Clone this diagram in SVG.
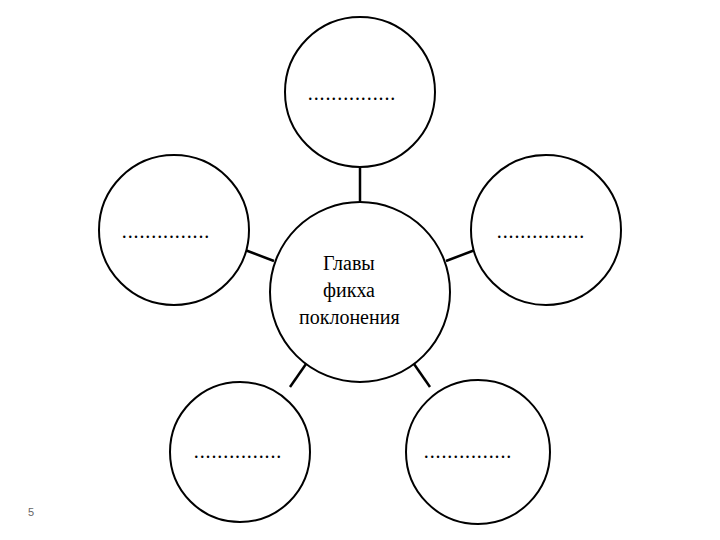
<svg xmlns="http://www.w3.org/2000/svg" width="720" height="540" viewBox="0 0 720 540">
<style>
.c{fill:#fff;stroke:#000;stroke-width:2}
.l{stroke:#000;stroke-width:2.5}
.t{font-family:"Liberation Serif",serif;font-size:20px;fill:#000}
.d{font-family:"Liberation Serif",serif;font-size:20px;fill:#000;text-anchor:middle;letter-spacing:0.9px}
</style>
<rect width="720" height="540" fill="#fff"/>
<g id="connectors">
<line class="l" x1="360" y1="167" x2="360" y2="201"/>
<line class="l" x1="245" y1="250" x2="274" y2="261"/>
<line class="l" x1="446" y1="261" x2="475" y2="250"/>
<line class="l" x1="290" y1="387" x2="306" y2="364"/>
<line class="l" x1="414" y1="364" x2="430" y2="387"/>
</g>
<g id="top"><circle class="c" cx="360" cy="92" r="75"/><text class="d" x="352" y="100">...............</text></g>
<g id="left"><circle class="c" cx="174" cy="230" r="75"/><text class="d" x="166" y="238">...............</text></g>
<g id="right"><circle class="c" cx="546" cy="230" r="75"/><text class="d" x="541" y="238">...............</text></g>
<g id="center"><circle class="c" cx="360" cy="292" r="90"/>
<text class="t" x="323" y="270">Главы</text>
<text class="t" x="323" y="297">фикха</text>
<text class="t" x="299" y="324">поклонения</text></g>
<g id="bottomleft"><circle class="c" cx="240" cy="452" r="70"/><text class="d" x="238" y="458">...............</text></g>
<g id="bottomright"><circle class="c" cx="478" cy="452" r="72"/><text class="d" x="468" y="458">...............</text></g>
<text x="28" y="516" font-family="Liberation Sans,sans-serif" font-size="11" fill="#666">5</text>
</svg>
